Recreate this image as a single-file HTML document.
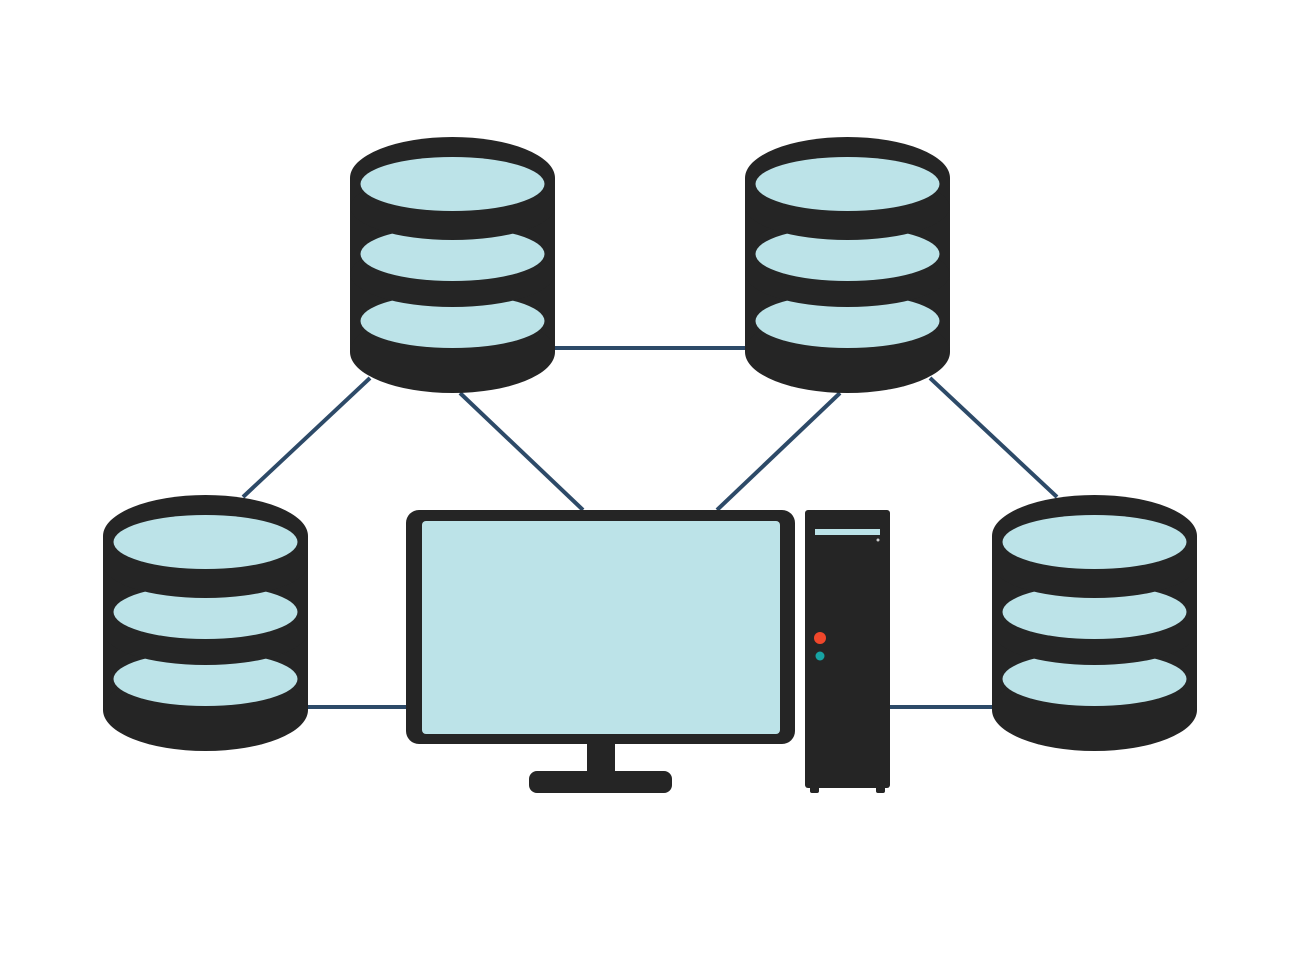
<!DOCTYPE html>
<html><head><style>html,body{margin:0;padding:0;background:#fff}svg{display:block}</style></head>
<body>
<svg width="1300" height="957" viewBox="0 0 1300 957" xmlns="http://www.w3.org/2000/svg">
<defs>
<g id="db">
  <ellipse cx="102.5" cy="41" rx="102.5" ry="41" fill="#252525"/>
  <rect x="0" y="41" width="205" height="174" fill="#252525"/>
  <ellipse cx="102.5" cy="215" rx="102.5" ry="41" fill="#252525"/>
  <ellipse cx="102.5" cy="184" rx="92" ry="27" fill="#bce3e8"/>
  <ellipse cx="102.5" cy="137" rx="102" ry="33" fill="#252525"/>
  <ellipse cx="102.5" cy="117" rx="92" ry="27" fill="#bce3e8"/>
  <ellipse cx="102.5" cy="70" rx="102" ry="33" fill="#252525"/>
  <ellipse cx="102.5" cy="47" rx="92" ry="27" fill="#bce3e8"/>
</g>
</defs>
<g stroke="#2d4a68" stroke-width="4">
  <line x1="555" y1="348" x2="745" y2="348"/>
  <line x1="370" y1="378" x2="243" y2="497"/>
  <line x1="460" y1="393" x2="583" y2="510"/>
  <line x1="840" y1="393" x2="717" y2="510"/>
  <line x1="930" y1="378" x2="1057" y2="497"/>
  <line x1="300" y1="707" x2="410" y2="707"/>
  <line x1="888" y1="707" x2="995" y2="707"/>
</g>
<use href="#db" x="350" y="137"/>
<use href="#db" x="745" y="137"/>
<use href="#db" x="103" y="495"/>
<use href="#db" x="992" y="495"/>
<rect x="406" y="510" width="389" height="234" rx="13" fill="#252525"/>
<rect x="422" y="521" width="358" height="213" rx="4" fill="#bce3e8"/>
<rect x="587" y="742" width="28" height="31" fill="#252525"/>
<rect x="529" y="771" width="143" height="22" rx="8" fill="#252525"/>
<rect x="805" y="510" width="85" height="278" rx="3" fill="#252525"/>
<rect x="810" y="780" width="9" height="13" rx="2" fill="#252525"/>
<rect x="876" y="780" width="9" height="13" rx="2" fill="#252525"/>
<rect x="815" y="529" width="65" height="6" fill="#bce3e8"/>
<circle cx="878" cy="540" r="1.5" fill="#ccc"/>
<circle cx="820" cy="638" r="6" fill="#f0472b"/>
<circle cx="820" cy="656" r="4.5" fill="#17a3a3"/>
</svg>
</body></html>
